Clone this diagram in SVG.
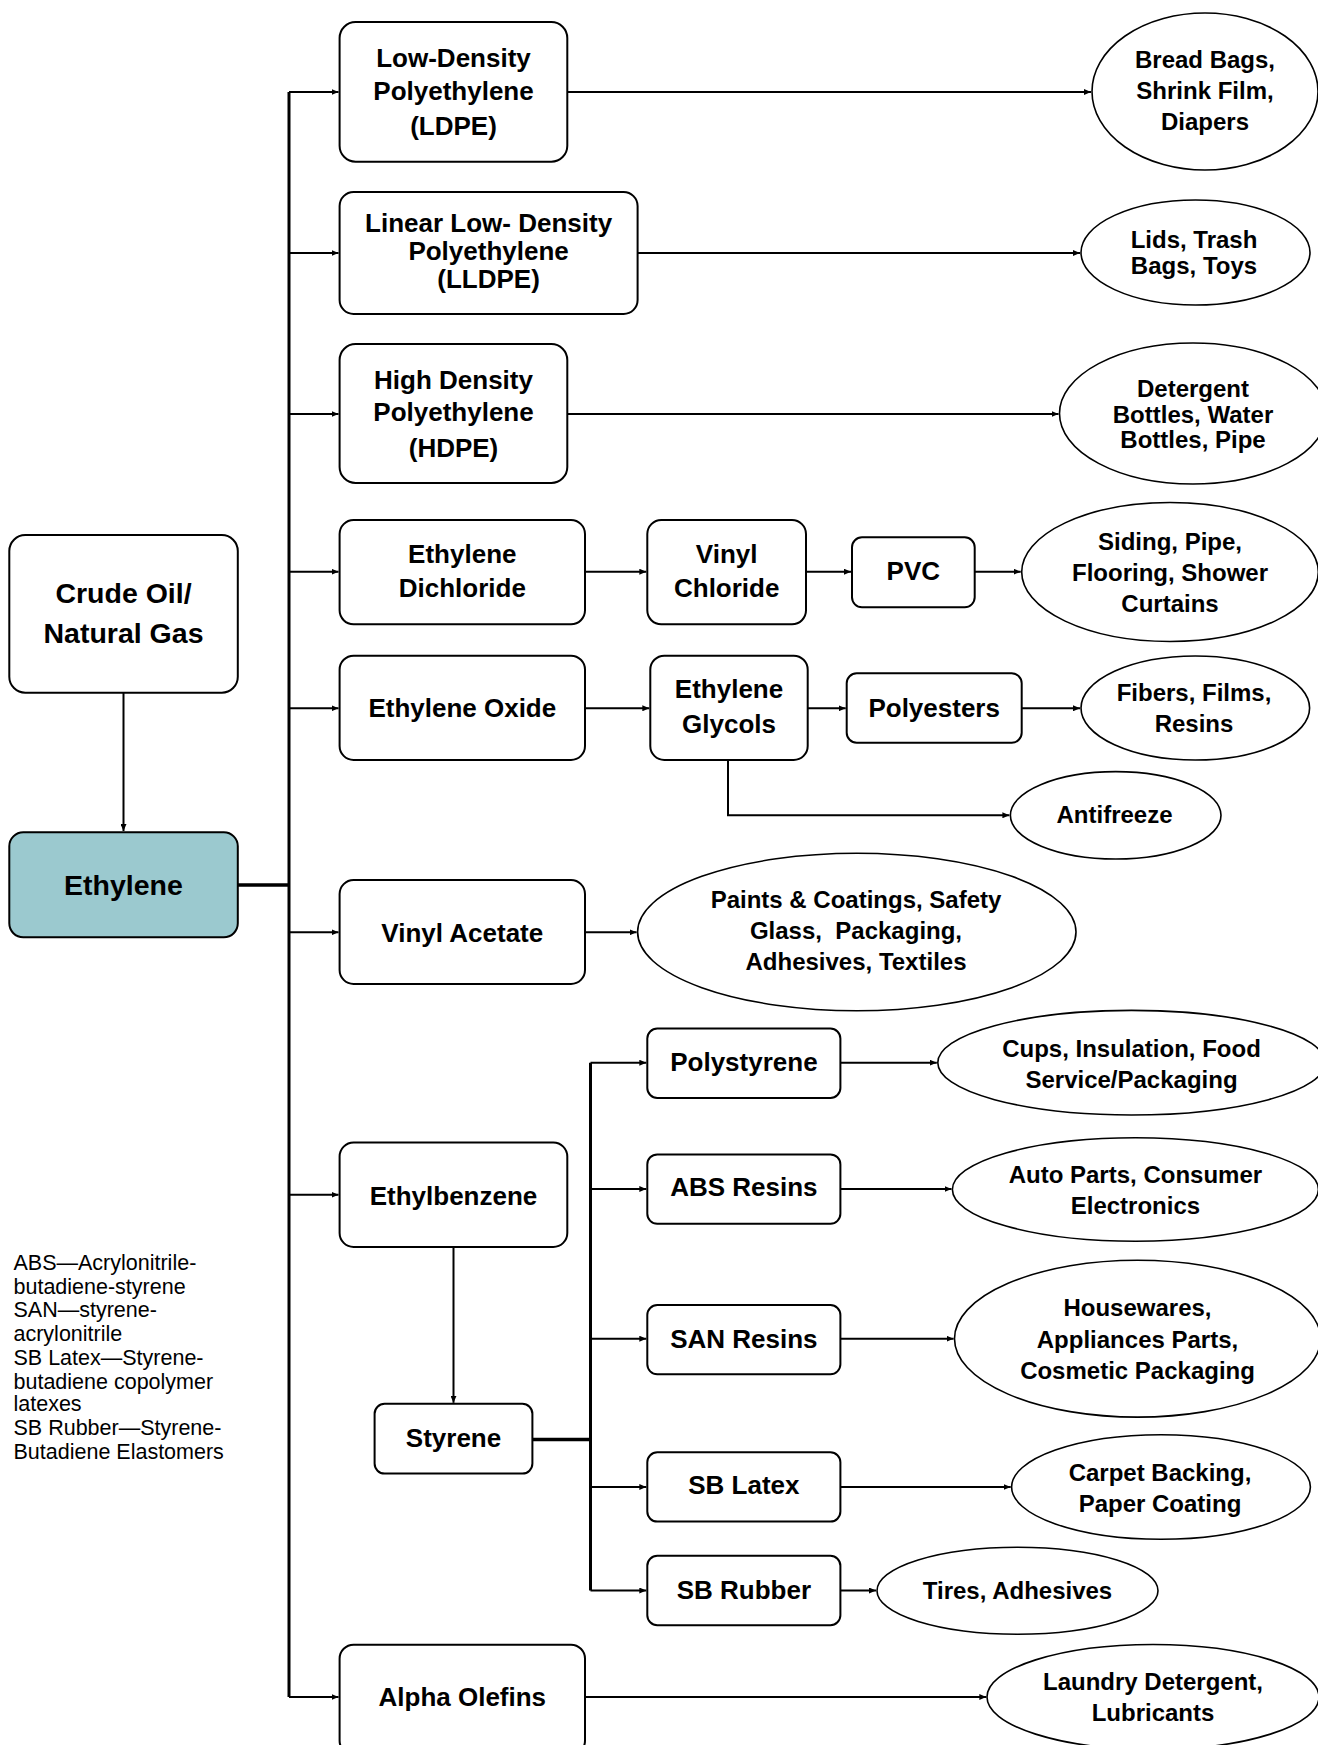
<svg xmlns="http://www.w3.org/2000/svg" width="1318" height="1745" viewBox="0 0 1318 1745">
<style>
.box{fill:#fff;stroke:#000;stroke-width:2}
.eth{fill:#9BC9CF;stroke:#000;stroke-width:2}
.ell{fill:#fff;stroke:#000;stroke-width:1.6}
.t{font-family:"Liberation Sans",Arial,sans-serif;font-weight:bold;font-size:26px;text-anchor:middle;fill:#000}
.tl{font-family:"Liberation Sans",Arial,sans-serif;font-weight:bold;font-size:28.5px;text-anchor:middle;fill:#000}
.te{font-family:"Liberation Sans",Arial,sans-serif;font-weight:bold;font-size:24px;text-anchor:middle;fill:#000}
.leg{font-family:"Liberation Sans",Arial,sans-serif;font-size:21.5px;fill:#000}
.c{fill:none;stroke:#000;stroke-width:2}
.ca{fill:none;stroke:#000;stroke-width:2;marker-end:url(#ah)}
.trunk{fill:none;stroke:#000;stroke-width:3}
.thick{fill:none;stroke:#000;stroke-width:3.5}
</style>
<defs>
<marker id="ah" markerUnits="userSpaceOnUse" markerWidth="8" markerHeight="6" refX="7" refY="3" orient="auto">
<path d="M0,0 L7,3 L0,6 z" fill="#000"/>
</marker>
</defs>

<g id="connectors">
<path class="ca" d="M123.5,692.7 V831"/>
<path class="thick" d="M237.8,885 H289"/>
<path class="trunk" d="M289,92 V1697"/>
<path class="ca" d="M289,92 H338.5"/>
<path class="ca" d="M289,253 H338.5"/>
<path class="ca" d="M289,414 H338.5"/>
<path class="ca" d="M289,571.7 H338.5"/>
<path class="ca" d="M289,708.3 H338.5"/>
<path class="ca" d="M289,932.3 H338.5"/>
<path class="ca" d="M289,1194.8 H338.5"/>
<path class="ca" d="M289,1697 H338.5"/>
<path class="ca" d="M567.3,92 H1091"/>
<path class="ca" d="M637.6,253 H1080"/>
<path class="ca" d="M567.3,414 H1058.5"/>
<path class="ca" d="M585,571.7 H646.3"/>
<path class="ca" d="M806,571.7 H851"/>
<path class="ca" d="M974.7,571.7 H1020.7"/>
<path class="ca" d="M585,708.3 H649.3"/>
<path class="ca" d="M807.7,708.3 H845.7"/>
<path class="ca" d="M1021.7,708.3 H1080"/>
<path class="ca" d="M728,760 V815.3 H1009.4"/>
<path class="ca" d="M585,932.3 H636.6"/>
<path class="ca" d="M453.5,1247 V1402.8"/>
<path class="thick" d="M532.4,1439.4 H590.5"/>
<path class="trunk" d="M590.5,1062.7 V1590.5"/>
<path class="ca" d="M590.5,1062.7 H646.3"/>
<path class="ca" d="M590.5,1189 H646.3"/>
<path class="ca" d="M590.5,1338.7 H646.3"/>
<path class="ca" d="M590.5,1487 H646.3"/>
<path class="ca" d="M590.5,1590.5 H646.3"/>
<path class="ca" d="M840.4,1062.7 H936.8"/>
<path class="ca" d="M840.4,1189 H951.5"/>
<path class="ca" d="M840.4,1338.7 H953.6"/>
<path class="ca" d="M840.4,1487 H1010.7"/>
<path class="ca" d="M840.4,1590.5 H876"/>
<path class="ca" d="M585,1697 H986.3"/>
</g>

<g id="crude">
<rect class="box" x="9.3" y="535" width="228.5" height="157.7" rx="16"/>
<text class="tl" x="123.5" y="603.3">Crude Oil/</text>
<text class="tl" x="123.5" y="642.7">Natural Gas</text>
</g>
<g id="ethylene">
<rect class="eth" x="9.3" y="832.3" width="228.5" height="105" rx="14"/>
<text class="tl" x="123.5" y="895">Ethylene</text>
</g>

<g id="ldpe">
<rect class="box" x="339.6" y="22" width="227.7" height="139.7" rx="16"/>
<text class="t" x="453.5" y="67">Low-Density</text>
<text class="t" x="453.5" y="100">Polyethylene</text>
<text class="t" x="453.5" y="135">(LDPE)</text>
</g>
<g id="lldpe">
<rect class="box" x="339.6" y="192" width="298" height="122" rx="14"/>
<text class="t" x="488.6" y="232">Linear Low- Density</text>
<text class="t" x="488.6" y="260">Polyethylene</text>
<text class="t" x="488.6" y="288">(LLDPE)</text>
</g>
<g id="hdpe">
<rect class="box" x="339.6" y="344" width="227.7" height="139" rx="16"/>
<text class="t" x="453.5" y="389">High Density</text>
<text class="t" x="453.5" y="421">Polyethylene</text>
<text class="t" x="453.5" y="457">(HDPE)</text>
</g>
<g id="edc">
<rect class="box" x="339.6" y="520" width="245.4" height="104.3" rx="14"/>
<text class="t" x="462.3" y="562.7">Ethylene</text>
<text class="t" x="462.3" y="597.3">Dichloride</text>
</g>
<g id="vc">
<rect class="box" x="647.3" y="520" width="158.7" height="104.3" rx="14"/>
<text class="t" x="726.7" y="562.7">Vinyl</text>
<text class="t" x="726.7" y="597.3">Chloride</text>
</g>
<g id="pvc">
<rect class="box" x="852" y="537.3" width="122.7" height="70" rx="10"/>
<text class="t" x="913.3" y="580">PVC</text>
</g>
<g id="eo">
<rect class="box" x="339.6" y="655.7" width="245.4" height="104.3" rx="14"/>
<text class="t" x="462.3" y="716.7">Ethylene Oxide</text>
</g>
<g id="eg">
<rect class="box" x="650.3" y="655.7" width="157.4" height="104.3" rx="14"/>
<text class="t" x="729" y="698.3">Ethylene</text>
<text class="t" x="729" y="733.3">Glycols</text>
</g>
<g id="polyesters">
<rect class="box" x="846.7" y="673.3" width="175" height="69.4" rx="10"/>
<text class="t" x="934.2" y="716.7">Polyesters</text>
</g>
<g id="va">
<rect class="box" x="339.6" y="880" width="245.4" height="104" rx="14"/>
<text class="t" x="462.3" y="941.7">Vinyl Acetate</text>
</g>
<g id="eb">
<rect class="box" x="339.6" y="1142.5" width="227.7" height="104.5" rx="14"/>
<text class="t" x="453.5" y="1205">Ethylbenzene</text>
</g>
<g id="styrene">
<rect class="box" x="374.6" y="1403.8" width="157.8" height="69.8" rx="10"/>
<text class="t" x="453.5" y="1446.5">Styrene</text>
</g>
<g id="ps">
<rect class="box" x="647.3" y="1028.5" width="193.1" height="69.4" rx="10"/>
<text class="t" x="743.9" y="1071.3">Polystyrene</text>
</g>
<g id="abs">
<rect class="box" x="647.3" y="1154.4" width="193.1" height="69.4" rx="10"/>
<text class="t" x="743.9" y="1196.2">ABS Resins</text>
</g>
<g id="san">
<rect class="box" x="647.3" y="1305" width="193.1" height="69.3" rx="10"/>
<text class="t" x="743.9" y="1347.7">SAN Resins</text>
</g>
<g id="sblatex">
<rect class="box" x="647.3" y="1452.3" width="193.1" height="69.3" rx="10"/>
<text class="t" x="743.9" y="1494">SB Latex</text>
</g>
<g id="sbrubber">
<rect class="box" x="647.3" y="1555.8" width="193.1" height="69.4" rx="10"/>
<text class="t" x="743.9" y="1598.6">SB Rubber</text>
</g>
<g id="alpha">
<rect class="box" x="339.6" y="1644.7" width="245.4" height="110" rx="14"/>
<text class="t" x="462.3" y="1705.5">Alpha Olefins</text>
</g>

<g id="e-bread">
<ellipse class="ell" cx="1205" cy="91.5" rx="113" ry="78.5"/>
<text class="te" x="1205" y="68">Bread Bags,</text>
<text class="te" x="1205" y="99">Shrink Film,</text>
<text class="te" x="1205" y="130">Diapers</text>
</g>
<g id="e-lids">
<ellipse class="ell" cx="1195.5" cy="252.5" rx="114.5" ry="52.5"/>
<text class="te" x="1194" y="248">Lids, Trash</text>
<text class="te" x="1194" y="274">Bags, Toys</text>
</g>
<g id="e-detergent">
<ellipse class="ell" cx="1193" cy="413.5" rx="133.5" ry="70.5"/>
<text class="te" x="1193" y="397">Detergent</text>
<text class="te" x="1193" y="423">Bottles, Water</text>
<text class="te" x="1193" y="448">Bottles, Pipe</text>
</g>
<g id="e-siding">
<ellipse class="ell" cx="1170" cy="572" rx="148.3" ry="69.5"/>
<text class="te" x="1170" y="550">Siding, Pipe,</text>
<text class="te" x="1170" y="580.7">Flooring, Shower</text>
<text class="te" x="1170" y="611.7">Curtains</text>
</g>
<g id="e-fibers">
<ellipse class="ell" cx="1195.3" cy="708" rx="114.3" ry="52"/>
<text class="te" x="1194" y="701">Fibers, Films,</text>
<text class="te" x="1194" y="731.7">Resins</text>
</g>
<g id="e-antifreeze">
<ellipse class="ell" cx="1115.7" cy="815.3" rx="105.3" ry="43.7"/>
<text class="te" x="1114.5" y="823.3">Antifreeze</text>
</g>
<g id="e-paints">
<ellipse class="ell" cx="856.8" cy="932" rx="219.2" ry="78.7"/>
<text class="te" x="856" y="908.3">Paints &amp; Coatings, Safety</text>
<text class="te" x="856" y="939.3" xml:space="preserve">Glass,  Packaging,</text>
<text class="te" x="856" y="970">Adhesives, Textiles</text>
</g>
<g id="e-cups">
<ellipse class="ell" cx="1131.5" cy="1062.7" rx="193.7" ry="52.3"/>
<text class="te" x="1131.5" y="1057">Cups, Insulation, Food</text>
<text class="te" x="1131.5" y="1087.9">Service/Packaging</text>
</g>
<g id="e-auto">
<ellipse class="ell" cx="1135.4" cy="1189.5" rx="183" ry="51.7"/>
<text class="te" x="1135.4" y="1182.9">Auto Parts, Consumer</text>
<text class="te" x="1135.4" y="1213.8">Electronics</text>
</g>
<g id="e-housewares">
<ellipse class="ell" cx="1137.5" cy="1338.7" rx="183" ry="78.4"/>
<text class="te" x="1137.5" y="1315.9">Housewares,</text>
<text class="te" x="1137.5" y="1347.7">Appliances Parts,</text>
<text class="te" x="1137.5" y="1379.1">Cosmetic Packaging</text>
</g>
<g id="e-carpet">
<ellipse class="ell" cx="1161" cy="1487" rx="149.4" ry="52.3"/>
<text class="te" x="1160" y="1480.8">Carpet Backing,</text>
<text class="te" x="1160" y="1512.1">Paper Coating</text>
</g>
<g id="e-tires">
<ellipse class="ell" cx="1017.5" cy="1590.7" rx="140.5" ry="43.5"/>
<text class="te" x="1017.5" y="1598.6">Tires, Adhesives</text>
</g>
<g id="e-laundry">
<ellipse class="ell" cx="1153" cy="1697" rx="166" ry="52.5"/>
<text class="te" x="1153" y="1689.8">Laundry Detergent,</text>
<text class="te" x="1153" y="1721.1">Lubricants</text>
</g>

<g id="legend">
<text class="leg" x="13.5" y="1269.8">ABS—Acrylonitrile-</text>
<text class="leg" x="13.5" y="1293.6">butadiene-styrene</text>
<text class="leg" x="13.5" y="1317.3">SAN—styrene-</text>
<text class="leg" x="13.5" y="1341">acrylonitrile</text>
<text class="leg" x="13.5" y="1364.8">SB Latex—Styrene-</text>
<text class="leg" x="13.5" y="1388.6">butadiene copolymer</text>
<text class="leg" x="13.5" y="1411.4">latexes</text>
<text class="leg" x="13.5" y="1435">SB Rubber—Styrene-</text>
<text class="leg" x="13.5" y="1459">Butadiene Elastomers</text>
</g>
</svg>
